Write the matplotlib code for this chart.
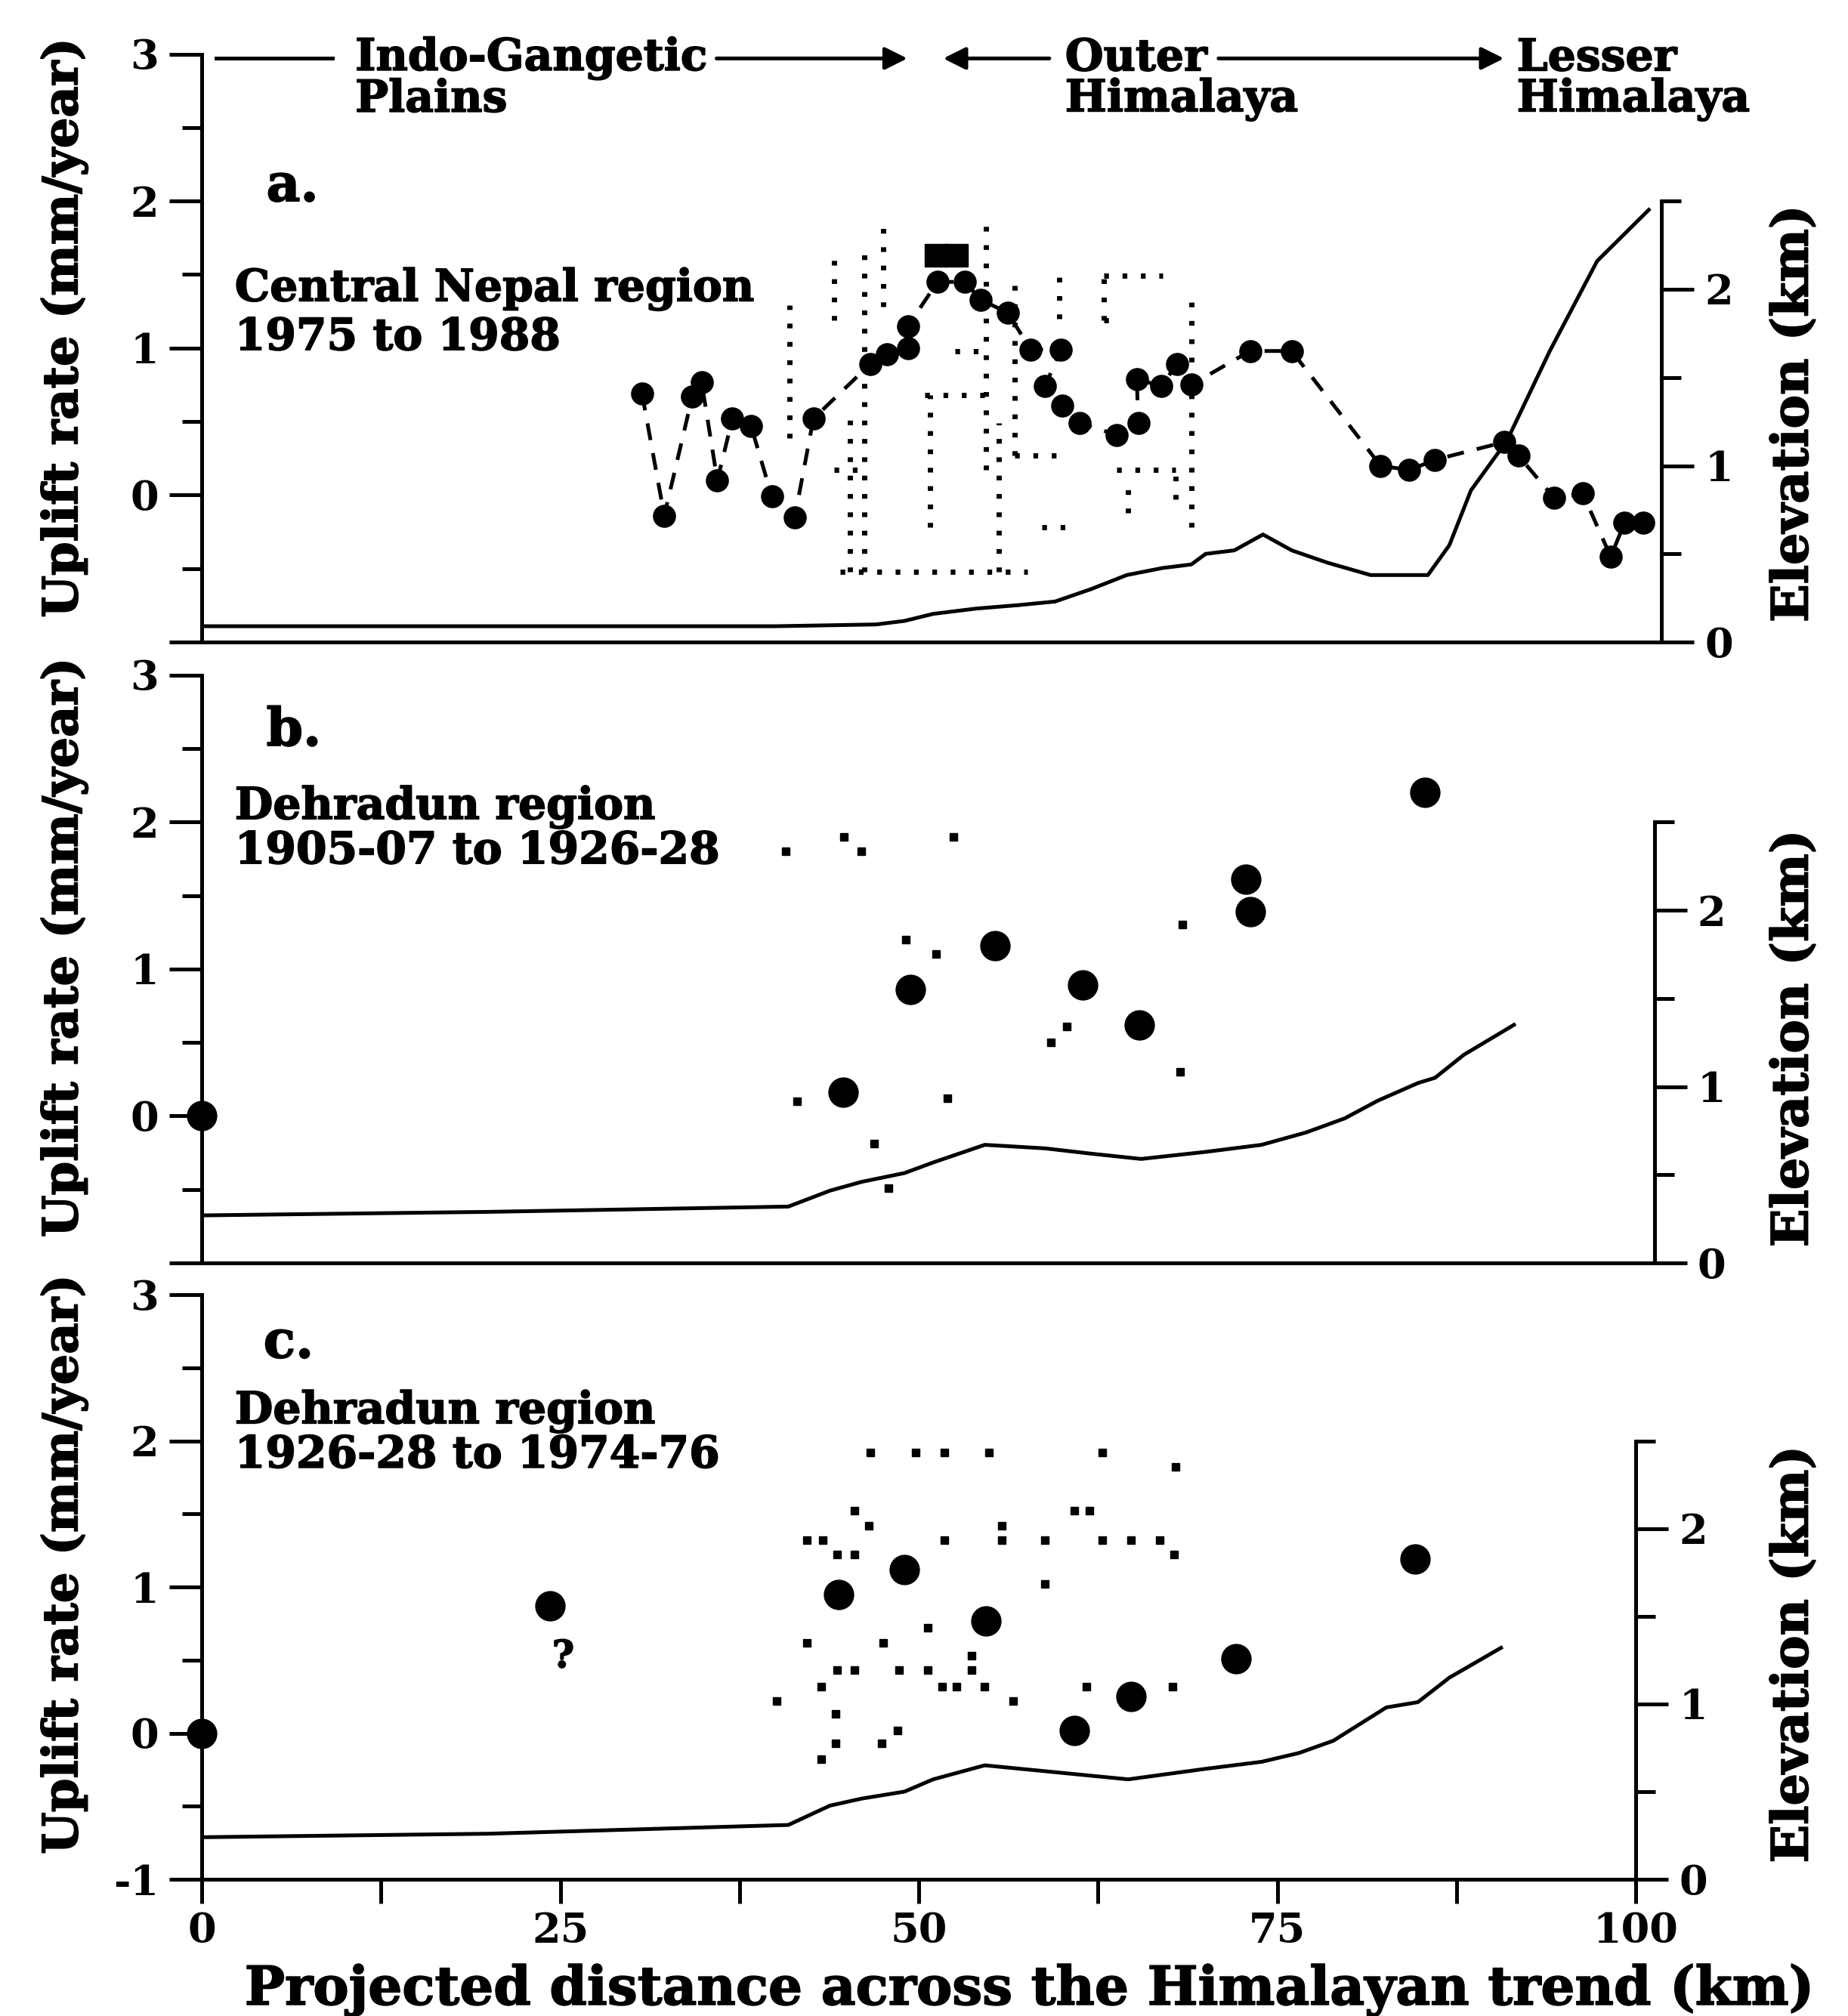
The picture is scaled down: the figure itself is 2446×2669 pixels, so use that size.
import matplotlib
matplotlib.use("Agg")
import matplotlib.pyplot as plt
import matplotlib.patheffects as pe

# ----------------------------------------------------------------------
# data (km across trend, uplift mm/yr, elevation km)
# ----------------------------------------------------------------------
# a. Central Nepal 1975-1988, levelling points in drawing order
a_x = [30.7, 32.25, 34.2, 34.85, 35.95, 37.0, 38.3, 39.75, 41.35, 42.65,
       46.6, 47.8, 49.25, 49.25, 51.3, 53.2, 54.3, 56.2, 57.8, 59.9, 58.8,
       60.0, 61.2, 63.8, 65.3, 65.2, 66.9, 68.0, 69.0, 73.1, 76.0, 82.2,
       84.2, 86.0, 90.8, 91.8, 94.3, 96.3, 98.25, 99.2, 100.5]
a_y = [0.69, -0.14, 0.67, 0.77, 0.10, 0.52, 0.47, -0.01, -0.15, 0.52,
       0.89, 0.96, 1.00, 1.15, 1.45, 1.45, 1.33, 1.24, 0.99, 0.99, 0.74,
       0.61, 0.49, 0.41, 0.49, 0.79, 0.74, 0.89, 0.75, 0.98, 0.98, 0.20,
       0.17, 0.24, 0.36, 0.27, -0.02, 0.01, -0.42, -0.19, -0.19]
a_sq_x = [51.2, 52.6]
a_sq_y = [1.63, 1.63]

# dotted error bars of panel a (vertical: x, lo, hi / horizontal: y, lo, hi)
a_ev_x = [41.0, 44.1, 45.2, 46.2, 47.5, 50.8, 54.7, 55.6, 56.7, 59.8, 62.9,
          64.6, 67.9, 69.0]
a_ev_lo = [0.39, 1.19, -0.52, -0.52, 1.28, -0.22, 0.17, -0.52, 0.27, 1.20,
           1.19, -0.12, -0.03, -0.22]
a_ev_hi = [1.29, 1.69, 0.59, 1.69, 1.90, 0.68, 1.90, 0.49, 1.49, 1.49,
           1.49, 0.07, 0.17, 1.39]
a_eh_y = [-0.52, 0.98, 0.68, 0.27, 0.17, -0.22, 1.49, 1.19, 0.17]
a_eh_lo = [44.5, 52.5, 50.4, 56.7, 63.8, 58.6, 62.9, 62.9, 44.1]
a_eh_hi = [57.6, 54.6, 54.6, 59.8, 67.9, 60.6, 67.0, 63.8, 46.2]

a_elev_x = [0, 20, 40, 47, 49, 51, 54, 57, 59.5, 62, 64.5, 67, 69, 70, 72,
            74, 76, 78.5, 81.5, 85.5, 87, 88.5, 91, 94, 97.3, 100.9]
a_elev = [0.09, 0.09, 0.09, 0.10, 0.12, 0.16, 0.19, 0.21, 0.23, 0.30, 0.38,
          0.42, 0.44, 0.50, 0.52, 0.61, 0.52, 0.45, 0.38, 0.38, 0.55, 0.86,
          1.14, 1.65, 2.16, 2.45]

# b. Dehradun 1905-07 to 1926-28
b_x = [0, 44.7, 49.4, 55.3, 61.4, 65.4, 72.8, 73.1, 85.3]
b_y = [0.0, 0.16, 0.86, 1.16, 0.89, 0.62, 1.61, 1.39, 2.20]
b_dx = [40.7, 44.8, 46.0, 52.4, 49.1, 51.2, 41.5, 52.0, 46.9, 47.9, 60.3,
        59.2, 68.4, 68.2]
b_dy = [1.80, 1.90, 1.80, 1.90, 1.20, 1.10, 0.10, 0.12, -0.19, -0.49, 0.61,
        0.50, 1.30, 0.30]
b_elev_x = [0, 20, 40.9, 43.8, 46, 49, 51, 54.6, 58.8, 62, 65.5, 70, 73.9,
            77, 79.7, 82, 84.8, 86, 88, 91.5]
b_elev = [0.27, 0.29, 0.32, 0.41, 0.46, 0.51, 0.57, 0.67, 0.65, 0.62, 0.59,
          0.63, 0.67, 0.74, 0.82, 0.92, 1.02, 1.05, 1.18, 1.35]

# c. Dehradun 1926-28 to 1974-76
c_x = [0, 24.3, 44.4, 49.0, 54.7, 60.85, 64.8, 72.1, 84.6]
c_y = [0.0, 0.87, 0.95, 1.12, 0.77, 0.02, 0.25, 0.51, 1.19]
c_dx = [46.6, 49.8, 51.8, 54.9, 62.8, 67.9, 45.5, 60.85, 61.9, 46.5, 55.8,
        42.2, 43.3, 51.8, 55.8, 58.8, 62.8, 64.8, 66.8, 44.3, 45.5, 67.8,
        58.8, 50.6, 42.2, 47.5, 53.7, 44.3, 45.5, 48.6, 50.6, 53.7, 43.2,
        51.6, 52.6, 54.6, 61.7, 67.7, 40.1, 56.6, 44.2, 48.5, 44.2, 47.4,
        43.2]
c_dy = [1.92, 1.92, 1.92, 1.92, 1.92, 1.82, 1.52, 1.52, 1.52, 1.42, 1.42,
        1.32, 1.32, 1.32, 1.32, 1.32, 1.32, 1.32, 1.32, 1.22, 1.22, 1.22,
        1.02, 0.72, 0.62, 0.62, 0.53, 0.43, 0.43, 0.43, 0.43, 0.43, 0.32,
        0.32, 0.32, 0.32, 0.32, 0.32, 0.22, 0.22, 0.13, 0.02, -0.07, -0.07,
        -0.18]
c_elev_x = [0, 20, 40.9, 43.8, 46, 49, 51, 54.6, 59.6, 64.6, 70, 73.9, 76.5,
            78.9, 82.6, 84.8, 87, 90.6]
c_elev = [0.24, 0.26, 0.31, 0.42, 0.46, 0.50, 0.57, 0.65, 0.61, 0.57, 0.63,
          0.67, 0.72, 0.79, 0.98, 1.01, 1.15, 1.32]

x_ticks = [0, 25, 50, 75, 100]

plt.rcParams["font.family"] = ["DejaVu Serif"]
plt.rcParams["font.weight"] = "bold"

INK = "black"
LW = 3.6
TICK_FS = 39
TXT_FS = 42
HEAVY = [pe.withStroke(linewidth=1.2, foreground=INK)]

fig = plt.figure(figsize=(24.46, 26.69), dpi=100)
LEFT, KM = 0.1092, 0.776 / 100.0


def _panel(bottom, height, xmax, show_x):
    ax = fig.add_axes([LEFT, bottom, KM * xmax, height])
    ax.set_xlim(0, xmax)
    ax.set_ylim(-1, 3)
    for s in ("top", "right"):
        ax.spines[s].set_visible(False)
    for s in ("left", "bottom"):
        ax.spines[s].set_linewidth(LW)
    ax.set_yticks([-1, 0, 1, 2, 3])
    ax.set_yticklabels(["-1" if show_x else "", "0", "1", "2", "3"])
    ax.set_yticks([-0.5, 0.5, 1.5, 2.5], minor=True)
    ax.tick_params(axis="y", which="major", length=31, width=LW,
                   labelsize=TICK_FS, pad=10)
    ax.tick_params(axis="y", which="minor", length=19, width=LW)
    if show_x:
        ax.set_xticks(x_ticks)
        ax.set_xticks([12.5, 37.5, 62.5, 87.5], minor=True)
        ax.tick_params(axis="x", which="both", length=23, width=LW,
                       labelsize=TICK_FS, pad=8)
    else:
        ax.set_xticks([])

    ax2 = ax.twinx()
    ax2.set_ylim(0, 10.0 / 3.0)
    for s in ("top", "left", "bottom"):
        ax2.spines[s].set_visible(False)
    ax2.spines["right"].set_bounds(0, 2.5)
    ax2.spines["right"].set_linewidth(LW)
    ax2.set_yticks([0, 1, 2])
    ax2.set_yticks([0.5, 1.5, 2.5], minor=True)
    ax2.tick_params(axis="y", which="major", length=31, width=LW,
                    labelsize=TICK_FS, pad=10)
    ax2.tick_params(axis="y", which="minor", length=19, width=LW)
    return ax, ax2


def _txt(ax, x, y, s, size=TXT_FS, **kw):
    kw.setdefault("va", "center")
    return ax.text(x, y, s, fontsize=size, path_effects=HEAVY, **kw)


dot_style = dict(color=INK, lw=5, linestyles=[(0, (0.9, 2.6))],
                 capstyle="butt")

# ---------------- panel a ----------------
ax_a, ax_a2 = _panel(0.6815, 0.2917, 101.8, False)
ax_a2.plot(a_elev_x, a_elev, color=INK, lw=LW)
ax_a.vlines(a_ev_x, a_ev_lo, a_ev_hi, **dot_style)
ax_a.hlines(a_eh_y, a_eh_lo, a_eh_hi, **dot_style)
ax_a.plot(a_x, a_y, color=INK, lw=3.6, ls=(0, (4.5, 3.5)), marker="o",
          ms=21, zorder=4)
ax_a.plot(a_sq_x, a_sq_y, ls="none", marker="s", ms=22, color=INK, zorder=4)
_txt(ax_a, 4.5, 2.10, "a.", size=50)
_txt(ax_a, 2.3, 1.40, "Central Nepal region")
_txt(ax_a, 2.3, 1.07, "1975 to 1988")

# region banner along the top of panel a
ax_a.plot([1.0, 9.1], [2.97, 2.97], color=INK, lw=LW, clip_on=False)
arrow = dict(arrowstyle="-|>", lw=LW, color=INK, mutation_scale=45,
             shrinkA=0, shrinkB=0)
ax_a.annotate("", xy=(49.2, 2.97), xytext=(35.9, 2.97), arrowprops=arrow,
              annotation_clip=False)
ax_a.annotate("", xy=(51.7, 2.97), xytext=(59.1, 2.97), arrowprops=arrow,
              annotation_clip=False)
ax_a.annotate("", xy=(90.8, 2.97), xytext=(70.9, 2.97), arrowprops=arrow,
              annotation_clip=False)
for x, top, bottom in [(10.7, "Indo-Gangetic", "Plains"),
                       (60.2, "Outer", "Himalaya"),
                       (91.7, "Lesser", "Himalaya")]:
    _txt(ax_a, x, 2.97, top, clip_on=False)
    _txt(ax_a, x, 2.69, bottom, clip_on=False)

# ---------------- panel b ----------------
ax_b, ax_b2 = _panel(0.3735, 0.2917, 101.3, False)
ax_b2.plot(b_elev_x, b_elev, color=INK, lw=LW)
ax_b.plot(b_dx, b_dy, ls="none", marker="s", ms=7, color=INK)
ax_b.plot(b_x, b_y, ls="none", marker="o", ms=28, color=INK, clip_on=False,
          zorder=4)
_txt(ax_b, 4.5, 2.62, "b.", size=50)
_txt(ax_b, 2.3, 2.10, "Dehradun region")
_txt(ax_b, 2.3, 1.80, "1905-07 to 1926-28")

# ---------------- panel c ----------------
ax_c, ax_c2 = _panel(0.0678, 0.2900, 100.0, True)
ax_c2.plot(c_elev_x, c_elev, color=INK, lw=LW)
ax_c.plot(c_dx, c_dy, ls="none", marker="s", ms=7, color=INK)
ax_c.plot(c_x, c_y, ls="none", marker="o", ms=28, color=INK, clip_on=False,
          zorder=4)
_txt(ax_c, 25.2, 0.52, "?", size=36, ha="center")
_txt(ax_c, 4.3, 2.67, "c.", size=50)
_txt(ax_c, 2.3, 2.20, "Dehradun region")
_txt(ax_c, 2.3, 1.90, "1926-28 to 1974-76")

# ---------------- axis titles ----------------
for yc in (0.8374, 0.530, 0.224):
    fig.text(0.0348, yc, "Uplift rate (mm/year)", rotation=90, fontsize=46,
             ha="center", va="center", path_effects=HEAVY)
for yc in (0.7947, 0.4848, 0.1793):
    fig.text(0.9706, yc, "Elevation (km)", rotation=90, fontsize=48,
             ha="center", va="center", path_effects=HEAVY)
fig.text(0.5568, 0.0128, "Projected distance across the Himalayan trend (km)",
         fontsize=51, ha="center", va="center", path_effects=HEAVY)

fig.savefig("out.png", dpi=100, facecolor="white")
